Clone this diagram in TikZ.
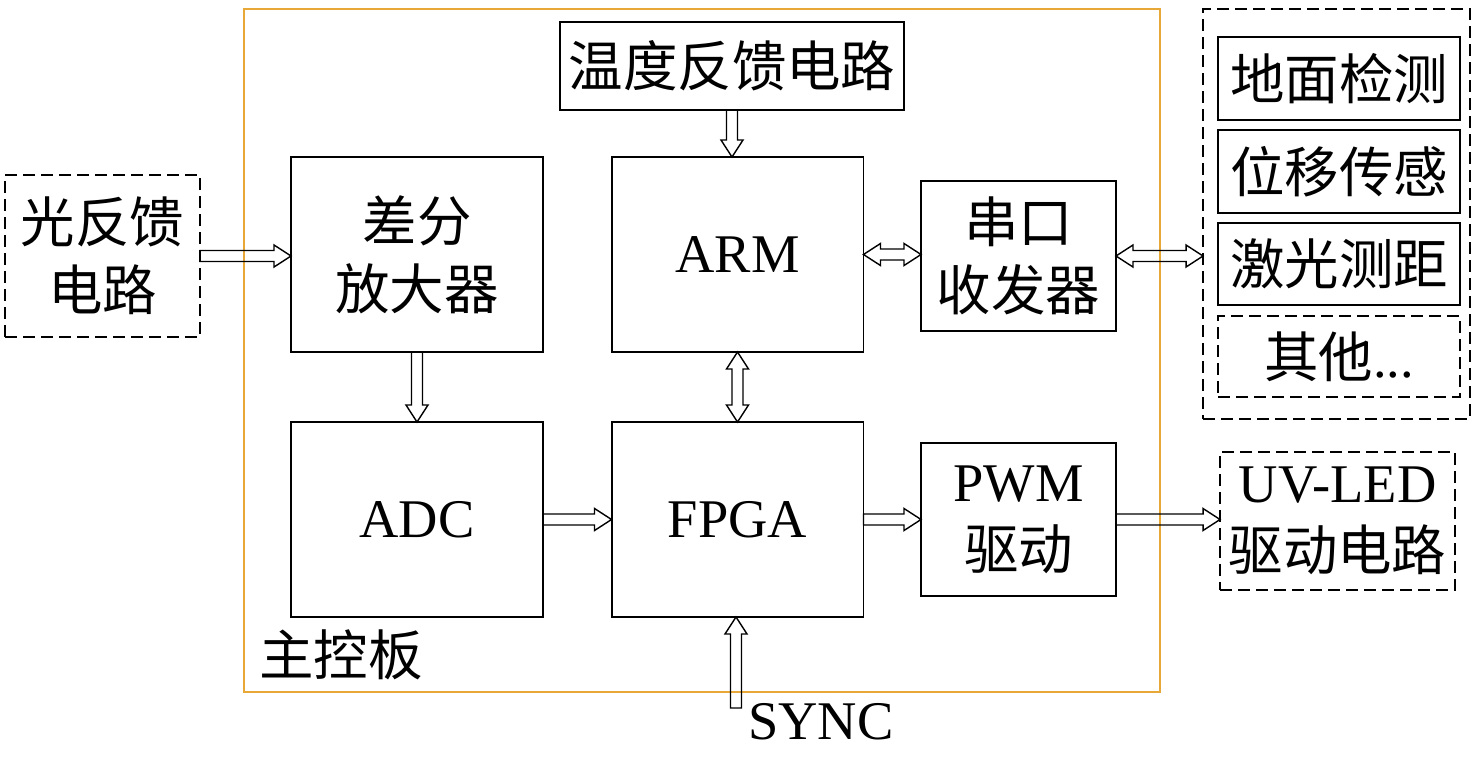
\documentclass[tikz,border=0pt]{standalone}
\usepackage{fontspec}
\setmainfont{Liberation Serif}
\newfontfamily\cjk{Noto Sans CJK SC}
\usetikzlibrary{calc}
\definecolor{boardorange}{RGB}{232,168,56}

% hollow arrow sizes: shaft half width, head half width, head length
\def\aS{0.11cm}
\def\aH{0.22cm}
\def\aL{0.34cm}
% right, down, up, two-way horizontal, two-way vertical
\newcommand{\rarr}[2]{\draw[hollow] let \p1=(#1), \p2=(#2) in
  (\x1,\y1+\aS) -- (\x2-\aL,\y1+\aS) -- (\x2-\aL,\y1+\aH) -- (\x2,\y1)
  -- (\x2-\aL,\y1-\aH) -- (\x2-\aL,\y1-\aS) -- (\x1,\y1-\aS) -- cycle;}
\newcommand{\darr}[2]{\draw[hollow] let \p1=(#1), \p2=(#2) in
  (\x1-\aS,\y1) -- (\x1-\aS,\y2+\aL) -- (\x1-\aH,\y2+\aL) -- (\x1,\y2)
  -- (\x1+\aH,\y2+\aL) -- (\x1+\aS,\y2+\aL) -- (\x1+\aS,\y1) -- cycle;}
\newcommand{\uarr}[2]{\draw[hollow] let \p1=(#1), \p2=(#2) in
  (\x1-\aS,\y1) -- (\x1-\aS,\y2-\aL) -- (\x1-\aH,\y2-\aL) -- (\x1,\y2)
  -- (\x1+\aH,\y2-\aL) -- (\x1+\aS,\y2-\aL) -- (\x1+\aS,\y1) -- cycle;}
\newcommand{\hdarr}[2]{\draw[hollow] let \p1=(#1), \p2=(#2) in
  (\x1,\y1) -- (\x1+\aL,\y1+\aH) -- (\x1+\aL,\y1+\aS) -- (\x2-\aL,\y1+\aS)
  -- (\x2-\aL,\y1+\aH) -- (\x2,\y1) -- (\x2-\aL,\y1-\aH) -- (\x2-\aL,\y1-\aS)
  -- (\x1+\aL,\y1-\aS) -- (\x1+\aL,\y1-\aH) -- cycle;}
\newcommand{\vdarr}[2]{\draw[hollow] let \p1=(#1), \p2=(#2) in
  (\x1,\y1) -- (\x1+\aH,\y1-\aL) -- (\x1+\aS,\y1-\aL) -- (\x1+\aS,\y2+\aL)
  -- (\x1+\aH,\y2+\aL) -- (\x1,\y2) -- (\x1-\aH,\y2+\aL) -- (\x1-\aS,\y2+\aL)
  -- (\x1-\aS,\y1-\aL) -- (\x1-\aH,\y1-\aL) -- cycle;}

\begin{document}
\begin{tikzpicture}[
  x=0.02cm, y=-0.02cm,
  every node/.style={font=\cjk\fontsize{31}{38.5}\selectfont, inner sep=0pt,
                     outer sep=0pt, align=center},
  block/.style={rectangle, draw=black, line width=1.1pt},
  dblock/.style={block, dashed, dash pattern=on 0.24cm off 0.12cm},
  latin/.style={font=\fontsize{31}{38.5}\selectfont},
  hollow/.style={draw=black, line width=0.8pt, line join=miter},
]
  \useasboundingbox (0,0) rectangle (1476,757);

  % main board frame
  \node[draw=boardorange, line width=1.5pt, minimum width=18.32cm,
        minimum height=13.66cm] (board) at (702,350.5) {};
  \node (boardlbl) at (341,655) {主控板};

  % blocks on the board
  \node[block, minimum width=6.88cm, minimum height=1.76cm] (temp)
        at (732,66) {温度反馈电路};
  \node[block, minimum width=5.04cm, minimum height=3.9cm] (diff)
        at (417,254.5) {差分\\放大器};
  \node[block, latin, minimum width=5.04cm, minimum height=3.9cm] (arm)
        at (737.5,254.5) {ARM};
  \node[block, minimum width=3.9cm, minimum height=3.0cm] (uart)
        at (1018.5,256) {串口\\收发器};
  \node[block, latin, minimum width=5.04cm, minimum height=3.9cm] (adc)
        at (417,519.5) {ADC};
  \node[block, latin, minimum width=5.04cm, minimum height=3.9cm] (fpga)
        at (737.5,519.5) {FPGA};
  \node[block, minimum width=3.9cm, minimum height=3.06cm] (pwm)
        at (1018.5,519.5) {{\fontspec{Liberation Serif}PWM}\\驱动};

  % outside the board
  \node[dblock, minimum width=3.9cm, minimum height=3.24cm] (optfb)
        at (102.5,256) {光反馈\\电路};
  \node[dblock, minimum width=4.7cm, minimum height=2.76cm] (uvled)
        at (1337.5,521) {{\fontspec{Liberation Serif}UV-LED}\\驱动电路};
  \node[dblock, minimum width=5.34cm, minimum height=8.2cm] (sensors)
        at (1336.5,214) {};
  \node[block, minimum width=4.84cm, minimum height=1.66cm] (ground)
        at (1339,78.5) {地面检测};
  \node[block, minimum width=4.84cm, minimum height=1.66cm] (disp)
        at (1339,171.5) {位移传感};
  \node[block, minimum width=4.84cm, minimum height=1.64cm] (laser)
        at (1339,264) {激光测距};
  \node[dblock, minimum width=4.84cm, minimum height=1.62cm] (other)
        at (1339,356.5) {其他{\fontspec{Liberation Serif}...}};
  \node[latin] (sync) at (821,722) {SYNC};
  \coordinate (synctail) at (736,708);

  % arrows
  \foreach \a/\b in {optfb.east/diff.west, adc.east/fpga.west,
                      fpga.east/pwm.west, pwm.east/uvled.west}
    \rarr{\a}{\b};
  \darr{temp.south}{arm.north}
  \darr{diff.south}{adc.north}
  \vdarr{arm.south}{fpga.north}
  \hdarr{arm.east}{uart.west}
  \hdarr{uart.east}{sensors.west}
  \uarr{synctail}{fpga.south}

\end{tikzpicture}
\end{document}
